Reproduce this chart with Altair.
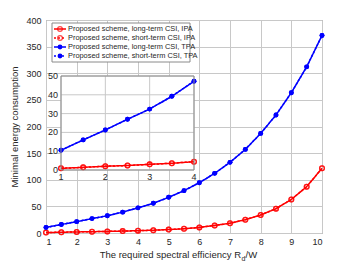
import altair as alt
import pandas as pd

# ---------------- data ----------------
x_vals = [1, 1.5, 2, 2.5, 3, 3.5, 4, 4.5, 5, 5.5, 6, 6.5, 7, 7.5, 8, 8.5, 9, 9.5, 10]
ipa_long = [0.9, 1.4, 2.0, 2.4, 3.0, 3.6, 4.4, 5.3, 6.4, 8.0, 10.5, 14.2, 18.3, 25.0, 33.8, 45.7, 63.0, 87.0, 121.5]
ipa_short = [0.9, 1.4, 2.0, 2.4, 3.0, 3.6, 4.4, 5.3, 6.4, 8.0, 10.5, 14.2, 18.3, 25.0, 33.8, 45.7, 63.0, 87.0, 121.5]
tpa_long = [10.5, 16.0, 21.3, 27.0, 32.4, 39.2, 47.2, 55.8, 67.0, 79.5, 94.5, 112.0, 132.7, 157.0, 187.0, 221.6, 263.5, 312.0, 371.0]
tpa_short = [10.5, 16.0, 21.3, 27.0, 32.4, 39.2, 47.2, 55.8, 67.0, 79.5, 94.5, 112.0, 132.7, 157.0, 187.0, 221.6, 263.5, 312.0, 371.0]

series_names = [
    "Proposed scheme, long-term CSI, IPA",
    "Proposed scheme, short-term CSI, IPA",
    "Proposed scheme, long-term CSI, TPA",
    "Proposed scheme, short-term CSI, TPA",
]
series_colors = ["#ff0000", "#ff0000", "#0000ff", "#0000ff"]
series_dash = [[1, 0], [2, 2], [1, 0], [2, 2]]
series_filled = [False, False, True, True]

main_x_ticks = [1, 2, 3, 4, 5, 6, 7, 8, 9, 10]
main_y_ticks = [0, 50, 100, 150, 200, 250, 300, 350, 400]
inset_x_ticks = [1, 2, 3, 4]
inset_y_ticks = [0, 10, 20, 30, 40, 50]
inset_x_max = 4

x_title_main = "The required spectral efficiency R"
x_title_sub = "d"
x_title_end = "/W"
y_title = "Minimal energy consumption"

# ---------------- layout constants ----------------
W, H = 276, 213
XMIN, XMAX, YMIN, YMAX = 1, 10, 0, 400
IX0, IX1, IY_BOT, IY_TOP = 15, 148, 150, 56
IXD0, IXD1, IYD0, IYD1 = 1, 4, 0, 50
FONT = "Liberation Sans"
TXT = "#262626"
GRID = "#c8c8c8"
FRAME = "#8a8a8a"


def px_to_x(expr):
    return f"{XMIN} + ({expr}) * {XMAX - XMIN} / {W}"


def py_to_y(expr):
    return f"{YMAX} - ({expr}) * {YMAX - YMIN} / {H}"


def inset_x(f):
    return px_to_x(f"{IX0} + ({f} - {IXD0}) / {IXD1 - IXD0} * {IX1 - IX0}")


def inset_y(f):
    return py_to_y(f"{IY_BOT} - ({f} - {IYD0}) / {IYD1 - IYD0} * {IY_BOT - IY_TOP}")


# ---------------- tables ----------------
rows = []
for name, vals in zip(series_names, [ipa_long, ipa_short, tpa_long, tpa_short]):
    for xv, yv in zip(x_vals, vals):
        rows.append({"x": xv, "y": yv, "series": name})
df = pd.DataFrame(rows)
df_inset = df[df["x"] <= inset_x_max].copy()

legend_df = pd.DataFrame({"series": series_names, "idx": [0, 1, 2, 3],
                          "filled": series_filled})

xs = alt.Scale(domain=[XMIN, XMAX], nice=False, zero=False)
ys = alt.Scale(domain=[YMIN, YMAX], nice=False)
cs = alt.Scale(domain=series_names, range=series_colors)
ds = alt.Scale(domain=series_names, range=series_dash)

XAX = alt.Axis(values=main_x_ticks, title=None, grid=True, gridColor=GRID,
               domain=False, ticks=False, labelPadding=4, labelFontSize=9,
               labelOverlap=False, format="d")
YAX = alt.Axis(values=main_y_ticks, title=y_title, grid=True, gridColor=GRID,
               domain=False, ticks=False, labelPadding=5, labelFontSize=9,
               labelOverlap=False, format="d",
               titleFontSize=9.5, titleFontWeight="normal", titlePadding=6)


def X(f):
    return alt.X(f"{f}:Q", scale=xs, axis=XAX)


def Y(f):
    return alt.Y(f"{f}:Q", scale=ys, axis=YAX)


def series_layers(base, xf, yf):
    line = base.mark_line(strokeWidth=1.5).encode(
        x=X(xf), y=Y(yf),
        color=alt.Color("series:N", scale=cs, legend=None),
        strokeDash=alt.StrokeDash("series:N", scale=ds, legend=None),
        detail="series:N",
    )
    pts_open = base.transform_filter(
        alt.FieldOneOfPredicate(field="series", oneOf=series_names[:2])
    ).mark_point(shape="circle", filled=False, size=22, strokeWidth=1.3).encode(
        x=X(xf), y=Y(yf),
        color=alt.Color("series:N", scale=cs, legend=None),
    )
    pts_fill = base.transform_filter(
        alt.FieldOneOfPredicate(field="series", oneOf=series_names[2:])
    ).mark_point(shape="circle", filled=True, size=24, opacity=1).encode(
        x=X(xf), y=Y(yf),
        color=alt.Color("series:N", scale=cs, legend=None),
    )
    return [line, pts_open, pts_fill]


# ---------------- main ----------------
main_parts = series_layers(alt.Chart(df), "x", "y")

# ---------------- inset ----------------
box_df = pd.DataFrame({"a0": [IXD0], "a1": [IXD1], "b0": [IYD0], "b1": [IYD1]})
box = alt.Chart(box_df).transform_calculate(
    X0=inset_x("datum.a0"), X1=inset_x("datum.a1"),
    Y0=inset_y("datum.b0"), Y1=inset_y("datum.b1"))
inset_bg = box.mark_rect(fill="white").encode(
    x=X("X0"), x2="X1:Q", y=Y("Y0"), y2="Y1:Q")
inset_frame = box.mark_rect(fill=None, stroke=FRAME, strokeWidth=1).encode(
    x=X("X0"), x2="X1:Q", y=Y("Y0"), y2="Y1:Q")

vg = alt.Chart(pd.DataFrame({"a": inset_x_ticks, "b0": IYD0, "b1": IYD1})).transform_calculate(
    XX=inset_x("datum.a"), Y0=inset_y("datum.b0"), Y1=inset_y("datum.b1"))
inset_vgrid = vg.mark_rule(color=GRID, strokeWidth=1).encode(
    x=X("XX"), y=Y("Y0"), y2="Y1:Q")
hg = alt.Chart(pd.DataFrame({"b": inset_y_ticks, "a0": IXD0, "a1": IXD1})).transform_calculate(
    YY=inset_y("datum.b"), X0=inset_x("datum.a0"), X1=inset_x("datum.a1"))
inset_hgrid = hg.mark_rule(color=GRID, strokeWidth=1).encode(
    y=Y("YY"), x=X("X0"), x2="X1:Q")

inset_base = alt.Chart(df_inset).transform_calculate(
    XI=inset_x("datum.x"), YI=inset_y("datum.y"))
inset_parts = series_layers(inset_base, "XI", "YI")

ixlab = alt.Chart(pd.DataFrame({"v": inset_x_ticks})).transform_calculate(
    XL=inset_x("datum.v")).mark_text(
    align="center", baseline="top", fontSize=9, font=FONT, color=TXT).encode(
    x=X("XL"), y=alt.value(IY_BOT + 3),
    text=alt.Text("v:Q", format="d"))
iylab = alt.Chart(pd.DataFrame({"w": inset_y_ticks})).transform_calculate(
    YL=inset_y("datum.w")).mark_text(
    align="right", baseline="middle", fontSize=9, font=FONT, color=TXT).encode(
    y=Y("YL"), x=alt.value(IX0 - 3),
    text=alt.Text("w:Q", format="d"))

# ---------------- legend ----------------
leg_box = alt.Chart(pd.DataFrame({"a": [0]})).mark_rect(
    fill="white", stroke=FRAME, strokeWidth=1).encode(
    x=alt.value(6), x2=alt.value(144), y=alt.value(3), y2=alt.value(42))
leg_base = alt.Chart(legend_df).transform_calculate(
    YG=py_to_y("9 + datum.idx * 9"))
leg_line = leg_base.mark_rule(strokeWidth=1.5).encode(
    x=alt.value(8), x2=alt.value(20), y=Y("YG"),
    color=alt.Color("series:N", scale=cs, legend=None),
    strokeDash=alt.StrokeDash("series:N", scale=ds, legend=None))
leg_open = leg_base.transform_filter("!datum.filled").mark_point(
    shape="circle", filled=False, size=22, strokeWidth=1.3).encode(
    x=alt.value(14), y=Y("YG"),
    color=alt.Color("series:N", scale=cs, legend=None))
leg_fill = leg_base.transform_filter("datum.filled").mark_point(
    shape="circle", filled=True, size=24, opacity=1).encode(
    x=alt.value(14), y=Y("YG"),
    color=alt.Color("series:N", scale=cs, legend=None))
leg_text = leg_base.mark_text(align="left", baseline="middle", fontSize=7.4,
                              font=FONT, color=TXT).encode(
    x=alt.value(22), y=Y("YG"), text="series:N")

# ---------------- x title with subscript ----------------
tdf = pd.DataFrame({"t1": [x_title_main], "t2": [x_title_sub], "t3": [x_title_end]})
t_main = alt.Chart(tdf).mark_text(align="right", baseline="alphabetic", fontSize=9.5,
                                  font=FONT, color=TXT).encode(
    x=alt.value(195), y=alt.value(238), text="t1:N")
t_sub = alt.Chart(tdf).mark_text(align="left", baseline="alphabetic", fontSize=7,
                                 font=FONT, color=TXT).encode(
    x=alt.value(195.5), y=alt.value(240.5), text="t2:N")
t_end = alt.Chart(tdf).mark_text(align="left", baseline="alphabetic", fontSize=9.5,
                                 font=FONT, color=TXT).encode(
    x=alt.value(199.5), y=alt.value(238), text="t3:N")

chart = alt.layer(
    *main_parts,
    inset_bg, inset_vgrid, inset_hgrid, *inset_parts, inset_frame, ixlab, iylab,
    leg_box, leg_line, leg_open, leg_fill, leg_text,
    t_main, t_sub, t_end,
).properties(
    width=W, height=H,
    autosize=alt.AutoSizeParams(type="none"),
    padding={"left": 38, "top": 12, "right": 26, "bottom": 34},
    background="white",
).configure_view(
    stroke=FRAME, strokeWidth=1
).configure_axis(
    labelFont=FONT, titleFont=FONT, labelColor=TXT, titleColor=TXT,
)

chart.save("out.html", embed_options={"renderer": "svg", "actions": False})
